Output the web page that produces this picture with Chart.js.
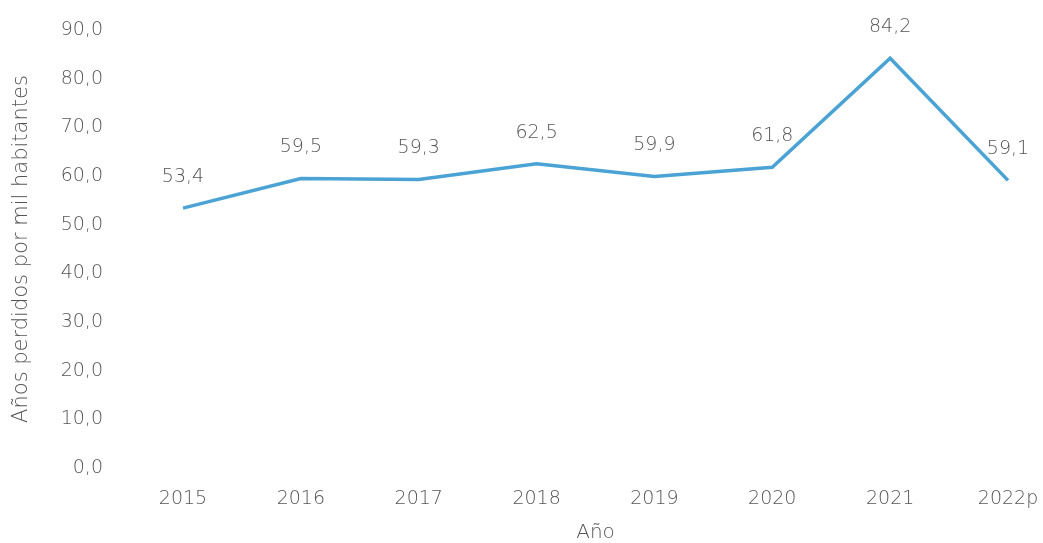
<!DOCTYPE html>
<html>
<head>
<meta charset="utf-8">
<script src="https://cdn.jsdelivr.net/npm/chart.js@4"></script>
<style>
html,body{margin:0;padding:0;background:#fff;}
#wrap{width:1043px;height:543px;position:relative;}
</style>
</head>
<body>
<div id="wrap"><canvas id="grafico"></canvas></div>
<script>
// datos
const anios=["2015","2016","2017","2018","2019","2020","2021","2022p"];
const valores=[53.4,59.5,59.3,62.5,59.9,61.8,84.2,59.1];
const yTicks=[0,10,20,30,40,50,60,70,80,90];

const gris="#555555";
const fuente="'DejaVu Sans', sans-serif";

function coma(v){
  return v.toFixed(1).replace(".",",");
}

// etiquetas de valores sobre cada punto
const etiquetas={
  id:"etiquetas",
  afterDatasetsDraw(chart){
    const c=chart.ctx;
    const meta=chart.getDatasetMeta(0);
    c.save();
    c.font="200 19px "+fuente;
    c.fillStyle=gris;
    c.textAlign="center";
    c.textBaseline="middle";
    meta.data.forEach(function(p,i){
      c.fillText(coma(valores[i]),p.x,p.y-31);
    });
    c.restore();
  }
};

const ctx=document.getElementById("grafico");

new Chart(ctx,{
  type:"line",
  data:{
    labels:anios,
    datasets:[{
      data:valores,
      borderColor:"#4aa3d4",
      borderWidth:3.5,
      pointRadius:0,
      tension:0,
      fill:false
    }]
  },
  options:{
    responsive:true,
    maintainAspectRatio:false,
    animation:false,
    layout:{padding:{top:30,right:35,bottom:0,left:0}},
    plugins:{
      legend:{display:false},
      tooltip:{enabled:false}
    },
    scales:{
      x:{
        offset:false,
        grid:{display:false,drawTicks:true,tickLength:20},
        border:{display:false},
        ticks:{color:gris,font:{family:fuente,size:19,weight:200},padding:0,maxRotation:0},
        title:{display:true,text:"Año",color:gris,font:{family:fuente,size:20,weight:200,lineHeight:1},padding:{top:0,bottom:0}},
        afterFit(s){s.height=75;}
      },
      y:{
        min:0,
        max:90,
        afterBuildTicks(s){s.ticks=yTicks.map(v=>({value:v}));},
        grid:{display:false,drawTicks:true,tickLength:80},
        border:{display:false},
        ticks:{color:gris,font:{family:fuente,size:19,weight:200},padding:0,callback:function(v){return coma(v);}},
        title:{display:true,text:"Años perdidos por mil habitantes",color:gris,font:{family:fuente,size:21,weight:200,lineHeight:1},padding:{top:11.5,bottom:0}},
        afterFit(s){s.width=183;}
      }
    }
  },
  plugins:[etiquetas]
});
</script>
</body>
</html>
